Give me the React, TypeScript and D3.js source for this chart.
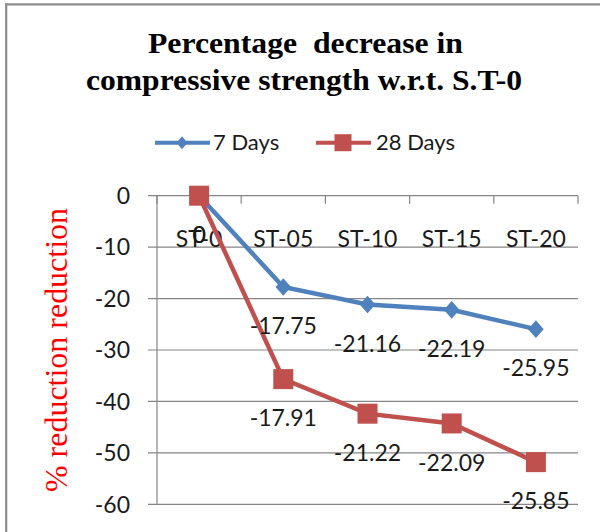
import React from "react";
import * as d3 from "d3";

const categories = ["ST-0", "ST-05", "ST-10", "ST-15", "ST-20"];
const days7 = [0, -17.75, -21.16, -22.19, -25.95];
const days28 = [0, -17.91, -21.22, -22.09, -25.85];
const seriesNames = ["7 Days", "28 Days"];
const seriesColors = ["#4F81BD", "#C0504D"];
const yTicks = [0, -10, -20, -30, -40, -50, -60];
const titleLines = ["Percentage  decrease in", "compressive strength w.r.t. S.T-0"];
const yTitle = "% reduction reduction";

const W = 600;
const H = 532;
const FONT = "Lato, 'Open Sans', sans-serif";
const GRID = "#868686";

export default function App() {
  const x = d3.scaleBand<string>().domain(categories).range([157, 578]).padding(0);
  const y = d3.scaleLinear().domain([-60, 0]).range([504.3, 195.7]);
  const cx = (c: string) => (x(c) as number) + x.bandwidth() / 2;

  const rows = categories.map((c, i) => ({ cat: c, "7 Days": days7[i], "28 Days": days28[i] }));
  const stacked = d3
    .stack<any>()
    .keys(seriesNames)
    .offset(d3.stackOffsetDiverging)(rows);

  const plotted = stacked.map((s, si) =>
    s.map((d, i) => ({
      cat: categories[i],
      raw: si === 0 ? days7[i] : days28[i],
      v: d[0] < 0 ? d[0] : d[1],
    }))
  );

  const line = d3
    .line<{ cat: string; v: number }>()
    .x((d) => cx(d.cat))
    .y((d) => y(d.v));

  const diamond = (px: number, py: number, hw: number, hh: number) =>
    `M${px},${py - hh}L${px + hw},${py}L${px},${py + hh}L${px - hw},${py}Z`;

  const ticksX = [...categories.map((c) => x(c) as number), 578];

  return (
    <svg
      width={W}
      height={H}
      style={{ position: "absolute", left: 0, top: 0, background: "#fff" }}
    >
      <rect x={0} y={0} width={W} height={H} fill="#fff" />
      {/* outer frame */}
      <line x1={6.2} y1={3.5} x2={6.2} y2={H} stroke="#8c8c8c" strokeWidth={2.2} />
      <line x1={5} y1={4.3} x2={W} y2={4.3} stroke="#8c8c8c" strokeWidth={2.2} />

      {/* title */}
      <text
        x={148}
        y={53}
        fontFamily="'Liberation Serif', 'Times New Roman', serif"
        fontWeight="bold"
        fontSize={29}
        textLength={315}
        lengthAdjust="spacingAndGlyphs"
        style={{ whiteSpace: "pre" }}
      >
        {titleLines[0]}
      </text>
      <text
        x={86}
        y={90}
        fontFamily="'Liberation Serif', 'Times New Roman', serif"
        fontWeight="bold"
        fontSize={29}
        textLength={436}
        lengthAdjust="spacingAndGlyphs"
      >
        {titleLines[1]}
      </text>

      {/* legend */}
      <g>
        <line x1={155} x2={210} y1={142.7} y2={142.7} stroke={seriesColors[0]} strokeWidth={4} />
        <path d={diamond(182, 142.7, 5.5, 6.5)} fill={seriesColors[0]} />
        <text x={213} y={150} fontFamily={FONT} fontSize={22} fill="#1a1a1a">
          {seriesNames[0]}
        </text>
        <line x1={316} x2={371} y1={142.7} y2={142.7} stroke={seriesColors[1]} strokeWidth={4} />
        <rect x={343 - 8.5} y={142.7 - 8.5} width={17} height={17} fill={seriesColors[1]} />
        <text x={376} y={150} fontFamily={FONT} fontSize={22} fill="#1a1a1a">
          {seriesNames[1]}
        </text>
      </g>

      {/* y title */}
      <text
        transform={`translate(67,350) rotate(-90)`}
        textAnchor="middle"
        fontFamily="'Liberation Serif', 'Times New Roman', serif"
        fontSize={32}
        fill="#ff0000"
        textLength={284}
        lengthAdjust="spacingAndGlyphs"
      >
        {yTitle}
      </text>

      {/* gridlines */}
      {yTicks.map((t) => (
        <line key={t} x1={148} x2={578} y1={y(t)} y2={y(t)} stroke={GRID} strokeWidth={1.2} />
      ))}
      {/* value axis */}
      <line x1={157} x2={157} y1={y(0)} y2={y(-60)} stroke={GRID} strokeWidth={1.2} />
      {/* category ticks */}
      {ticksX.map((tx, i) => (
        <line key={i} x1={tx} x2={tx} y1={y(0)} y2={y(0) + 8} stroke={GRID} strokeWidth={1.2} />
      ))}

      {/* y tick labels */}
      {yTicks.map((t) => (
        <text
          key={t}
          x={130}
          y={y(t)}
          dy="0.36em"
          textAnchor="end"
          fontFamily={FONT}
          fontSize={23}
          fill="#1a1a1a"
        >
          {t}
        </text>
      ))}

      {/* category labels */}
      {categories.map((c) => (
        <text
          key={c}
          x={cx(c)}
          y={239}
          dy="0.36em"
          textAnchor="middle"
          fontFamily={FONT}
          fontSize={23}
          fill="#1a1a1a"
        >
          {c}
        </text>
      ))}

      {/* series */}
      {plotted.map((pts, si) => (
        <g key={si}>
          <path d={line(pts) as string} fill="none" stroke={seriesColors[si]} strokeWidth={4.5} />
          {pts.map((p, i) =>
            si === 0 ? (
              <path key={i} d={diamond(cx(p.cat), y(p.v), 7.8, 8.8)} fill={seriesColors[si]} />
            ) : (
              <rect
                key={i}
                x={cx(p.cat) - 10}
                y={y(p.v) - 10}
                width={20}
                height={20}
                fill={seriesColors[si]}
              />
            )
          )}
        </g>
      ))}

      {/* data labels */}
      {plotted.map((pts, si) =>
        pts.map((p, i) => (
          <text
            key={`${si}-${i}`}
            x={cx(p.cat)}
            y={y(p.v) + 39}
            dy="0.36em"
            textAnchor="middle"
            fontFamily={FONT}
            fontSize={23}
            fill="#1a1a1a"
          >
            {p.raw}
          </text>
        ))
      )}
    </svg>
  );
}
